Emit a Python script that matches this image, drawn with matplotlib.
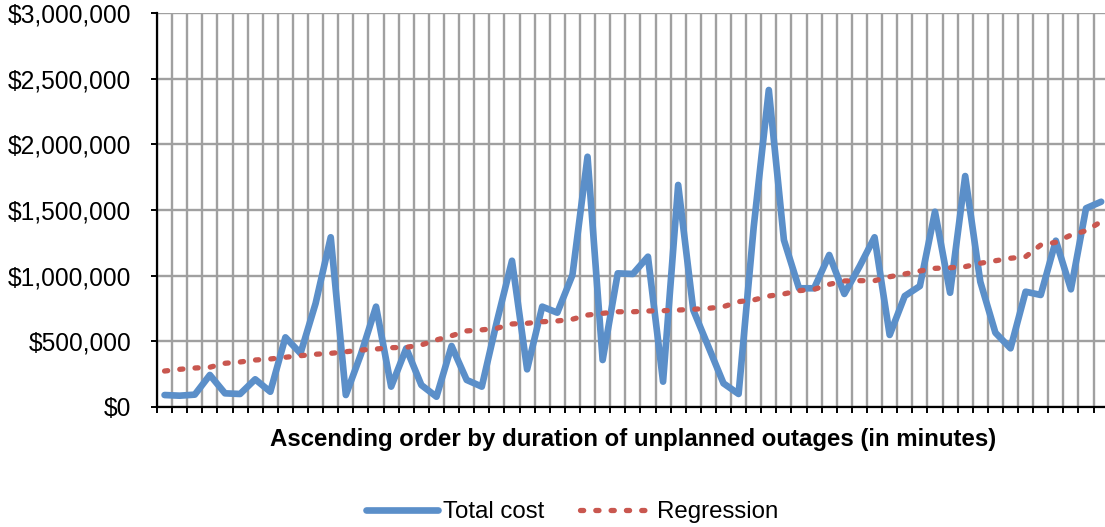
import matplotlib
matplotlib.use("Agg")
import matplotlib.pyplot as plt
import numpy as np
from matplotlib.ticker import FuncFormatter, FixedLocator

total_cost = [89, 84, 92, 242, 102, 97, 209, 114, 529, 407,
              788, 1292, 89, 400, 763, 153, 445, 165, 76, 463,
              204, 153, 650, 1113, 285, 763, 717, 1004, 1906, 356,
              1017, 1012, 1144, 191, 1691, 737, 458, 178, 97, 1370,
              2415, 1271, 903, 903, 1157, 860, 1068, 1292, 547, 844,
              920, 1487, 869, 1759, 953, 564, 445, 877, 852, 1266,
              895, 1513, 1563]
regression = [272, 285, 295, 301, 331, 341, 356, 364, 377, 389,
              400, 407, 419, 432, 440, 450, 453, 471, 509, 541,
              578, 586, 598, 631, 636, 648, 654, 667, 699, 712,
              724, 724, 730, 732, 737, 743, 750, 763, 801, 814,
              844, 860, 885, 895, 933, 959, 961, 961, 991, 1012,
              1035, 1055, 1060, 1068, 1094, 1113, 1132, 1144, 1233, 1254,
              1309, 1342, 1411]
total_cost = np.array(total_cost) * 1000
regression = np.array(regression) * 1000
y_ticks = [0, 500000, 1000000, 1500000, 2000000, 2500000, 3000000]
x_label = "Ascending order by duration of unplanned outages (in minutes)"
series_names = ["Total cost", "Regression"]

plt.rcParams['font.family'] = ['Liberation Sans', 'DejaVu Sans']

W, H = 1105, 527
fig = plt.figure(figsize=(W / 100, H / 100), dpi=100)
x0, x1 = 157, 1108.7
ytop, ybot = 13.3, 406.7
ax = fig.add_axes([x0 / W, 1 - ybot / H, (x1 - x0) / W, (ybot - ytop) / H])

n = len(total_cost)
x = np.arange(n)
blue = '#5B8FC9'
red = '#C9574F'

ax.plot(x, total_cost, color=blue, lw=4.8, solid_joinstyle='round',
        solid_capstyle='round', label=series_names[0], zorder=3)
ax.plot(x, regression, color=red, lw=3.8, linestyle=(0, (0.6, 2.3)),
        dash_capstyle='round', label=series_names[1], zorder=3)

ax.set_xlim(-0.5, n - 0.5)
ax.set_ylim(0, 3000000)
ax.yaxis.set_major_locator(FixedLocator(y_ticks))
ax.yaxis.set_major_formatter(FuncFormatter(lambda v, p: "${:,.0f}".format(v)))
ax.xaxis.set_major_locator(FixedLocator(np.arange(-0.5, n, 1.0)))
ax.set_xticklabels([])

ax.grid(True, color='#A0A0A0', lw=1.7, zorder=0)
ax.set_axisbelow(True)
for s in ['top', 'right']:
    ax.spines[s].set_visible(False)
for s in ['left', 'bottom']:
    ax.spines[s].set_linewidth(1.6)
    ax.spines[s].set_color('black')
    ax.spines[s].set_zorder(4)

ax.tick_params(axis='x', direction='out', length=4.5, width=1.4, color='black')
ax.tick_params(axis='y', direction='out', length=4.5, width=1.4, color='black',
               labelsize=17.7, pad=14)

ax.set_xlabel(x_label, fontsize=17.3, fontweight='bold', labelpad=7)

fig.legend(loc='center', bbox_to_anchor=(572 / W, 1 - 512 / H), ncol=2,
           frameon=False, fontsize=17.3, handlelength=3.0, handletextpad=0.2,
           columnspacing=1.5)

fig.savefig("out.png", dpi=100)
